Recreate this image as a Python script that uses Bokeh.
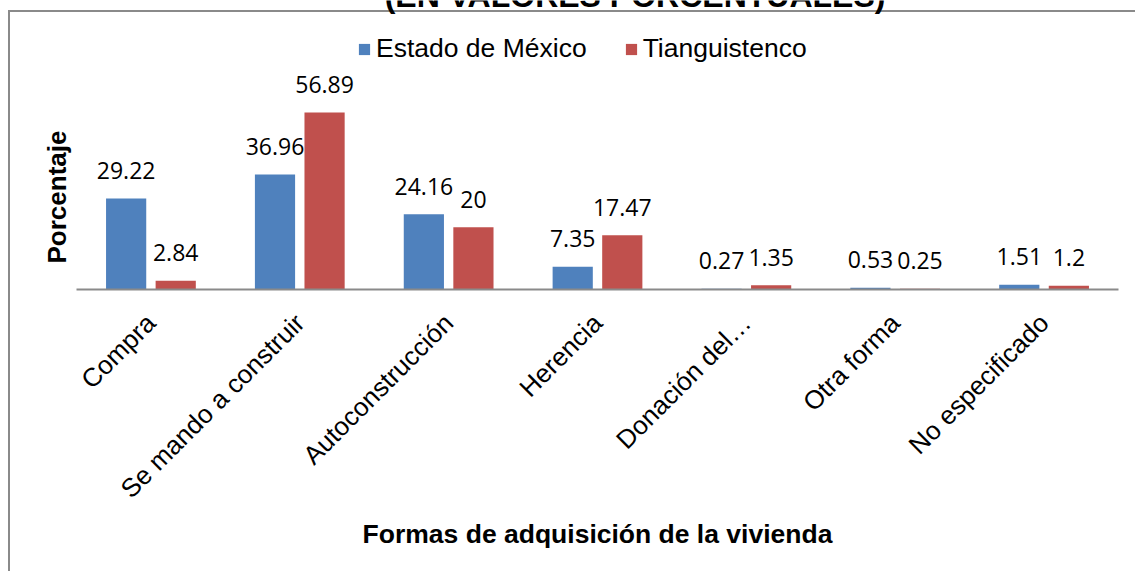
import math
from bokeh.plotting import figure
from bokeh.models import ColumnDataSource, FactorRange, Range1d, Title
from bokeh.transform import dodge
from bokeh.core.properties import value
from bokeh.embed import file_html
from bokeh.resources import INLINE

categories = ["Compra", "Se mando a construir", "Autoconstrucción", "Herencia",
              "Donación del…", "Otra forma", "No especificado"]
estado = [29.22, 36.96, 24.16, 7.35, 0.27, 0.53, 1.51]
tiang = [2.84, 56.89, 20, 17.47, 1.35, 0.25, 1.2]
series_names = ["Estado de México", "Tianguistenco"]
title_text = "(EN VALORES PORCENTUALES)"
x_title = "Formas de adquisición de la vivienda"
y_title = "Porcentaje"

BLUE = "#4F81BD"
RED = "#C0504D"
GRAY = "#8A8A8A"
Y_END = 92.9

src = ColumnDataSource(dict(
    cat=categories,
    estado=estado,
    tiang=tiang,
    estado_lbl=[f"{v:g}" for v in estado],
    tiang_lbl=[f"{v:g}" for v in tiang],
))

p = figure(x_range=FactorRange(*categories), y_range=Range1d(0, Y_END),
           width=1135, height=571, output_backend="svg", toolbar_location=None,
           min_border_left=76, min_border_right=17, min_border_top=0, min_border_bottom=282)
# chart-area border: left and top edges (the others run off the page)
p.styles = {
    "background": (f"linear-gradient({GRAY},{GRAY}) 8px 10px / 2px 600px no-repeat, "
                   f"linear-gradient({GRAY},{GRAY}) 8px 10px / 1200px 2px no-repeat, #ffffff"),
}
p.border_fill_alpha = 0
p.background_fill_alpha = 0
p.outline_line_color = None
p.xgrid.visible = False
p.ygrid.visible = False
p.yaxis.visible = False

p.vbar(x=dodge("cat", -0.1665, range=p.x_range), top="estado", width=0.27, source=src,
       fill_color=BLUE, line_color=None, legend_label=series_names[0])
p.vbar(x=dodge("cat", 0.1665, range=p.x_range), top="tiang", width=0.27, source=src,
       fill_color=RED, line_color=None, legend_label=series_names[1])

for col, off in (("estado", -0.1665), ("tiang", 0.1665)):
    p.text(x=dodge("cat", off, range=p.x_range), y=col, text=col + "_lbl", source=src,
           text_align="center", text_baseline="alphabetic", y_offset=-28,
           text_font=value("Open Sans"), text_font_size="23px", text_color="black")

# chart title, mostly cut off by the top edge as in the original
tsrc = ColumnDataSource(dict(cat=[categories[3]], y=[Y_END], t=[title_text]))
p.text(x=dodge("cat", 0.252, range=p.x_range), y="y", text="t", source=tsrc,
       text_align="center", text_baseline="alphabetic", y_offset=-5,
       text_font=value("Liberation Sans"), text_font_size="32px", text_font_style="bold",
       text_color="black")

ax = p.xaxis[0]
ax.axis_line_color = GRAY
ax.axis_line_width = 2
ax.major_tick_line_color = None
ax.minor_tick_line_color = None
ax.major_tick_out = 0
ax.major_label_orientation = math.pi / 4
ax.major_label_standoff = 29
ax.major_label_text_font = "Liberation Sans"
ax.major_label_text_font_size = "26px"
ax.major_label_text_color = "black"
ax.axis_label = x_title
ax.axis_label_text_font = "Liberation Sans"
ax.axis_label_text_font_size = "26.5px"
ax.axis_label_text_font_style = "bold"
ax.axis_label_text_color = "black"
ax.axis_label_standoff = 2

yt = Title(text=y_title, align="left", offset=26, standoff=10,
           text_font="Liberation Sans", text_font_size="26px", text_font_style="bold",
           text_color="black")
p.add_layout(yt, "left")

lg = p.legend[0]
lg.orientation = "horizontal"
lg.location = (281, 225)
lg.glyph_width = 14
lg.glyph_height = 14
lg.label_standoff = 5
lg.spacing = 37
lg.padding = 0
lg.margin = 0
lg.border_line_color = None
lg.background_fill_alpha = 0
lg.label_text_font = "Liberation Sans"
lg.label_text_font_size = "26.5px"
lg.label_text_color = "black"

open("out.html", "w").write(file_html(p, INLINE))
